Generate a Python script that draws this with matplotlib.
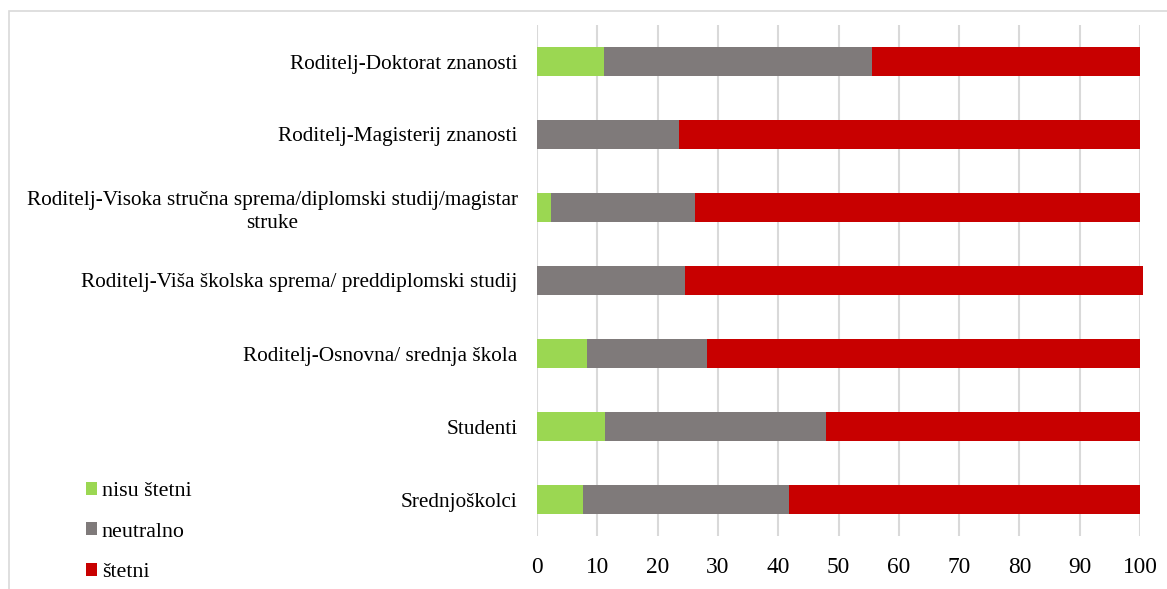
import matplotlib.pyplot as plt
from matplotlib.patches import Patch, Rectangle

plt.rcParams['font.family'] = ['Liberation Serif', 'DejaVu Serif']

# groups, bottom row first
groups = [
    'Srednjoškolci',
    'Studenti',
    'Roditelj-Osnovna/ srednja škola',
    'Roditelj-Viša školska sprema/ preddiplomski studij',
    'Roditelj-Visoka stručna sprema/diplomski studij/magistar\nstruke',
    'Roditelj-Magisterij znanosti',
    'Roditelj-Doktorat znanosti',
]
nisu_stetni = [7.6, 11.3, 8.3, 0.0, 2.4, 0.0, 11.1]
neutralno = [34.2, 36.6, 19.9, 24.5, 23.8, 23.5, 44.4]
stetni = [58.2, 52.1, 71.8, 76.0, 73.8, 76.5, 44.5]

series = [
    ('nisu štetni', nisu_stetni, '#9bd752'),
    ('neutralno', neutralno, '#7f7a7a'),
    ('štetni', stetni, '#c80000'),
]

fig = plt.figure(figsize=(11.67, 5.89), dpi=100)
ax = fig.add_axes([537 / 1167, 1 - 536 / 589, (1140 - 537) / 1167, (536 - 25) / 589])

ypos = list(range(len(groups)))
left = [0.0] * len(groups)
handles = []
for name, vals, col in series:
    ax.barh(ypos, vals, left=left, height=0.4, color=col, clip_on=False, zorder=3)
    left = [a + b for a, b in zip(left, vals)]
    handles.append(Patch(facecolor=col, label=name))

ax.set_xlim(0, 100)
ax.set_ylim(-0.5, len(groups) - 0.5)
ax.set_xticks(range(0, 101, 10))
ax.set_yticks(ypos)
ax.set_yticklabels(groups)
for lbl in ax.get_yticklabels():
    lbl.set_multialignment('center')
    lbl.set_linespacing(1.25)
ax.tick_params(axis='y', length=0, pad=14, labelsize=15.3)
ax.tick_params(axis='x', length=0, pad=15, labelsize=16.8)
ax.grid(axis='x', color='#d9d9d9', linewidth=1.5, zorder=0)
for sp in ax.spines.values():
    sp.set_visible(False)

fig.legend(handles=handles, loc='center left', bbox_to_anchor=(86 / 1167, 1 - 532 / 589),
           frameon=False, fontsize=15.8, handlelength=0.52, handleheight=0.52,
           handletextpad=0.2, labelspacing=0.98, borderpad=0, borderaxespad=0)

# chart frame
fig.patches.append(Rectangle((9 / 1167, -0.1), 1.1, 1.1 - 11 / 589, transform=fig.transFigure,
                             fill=False, edgecolor='#d9d9d9', linewidth=1.2))

fig.savefig('out.png', dpi=100)
